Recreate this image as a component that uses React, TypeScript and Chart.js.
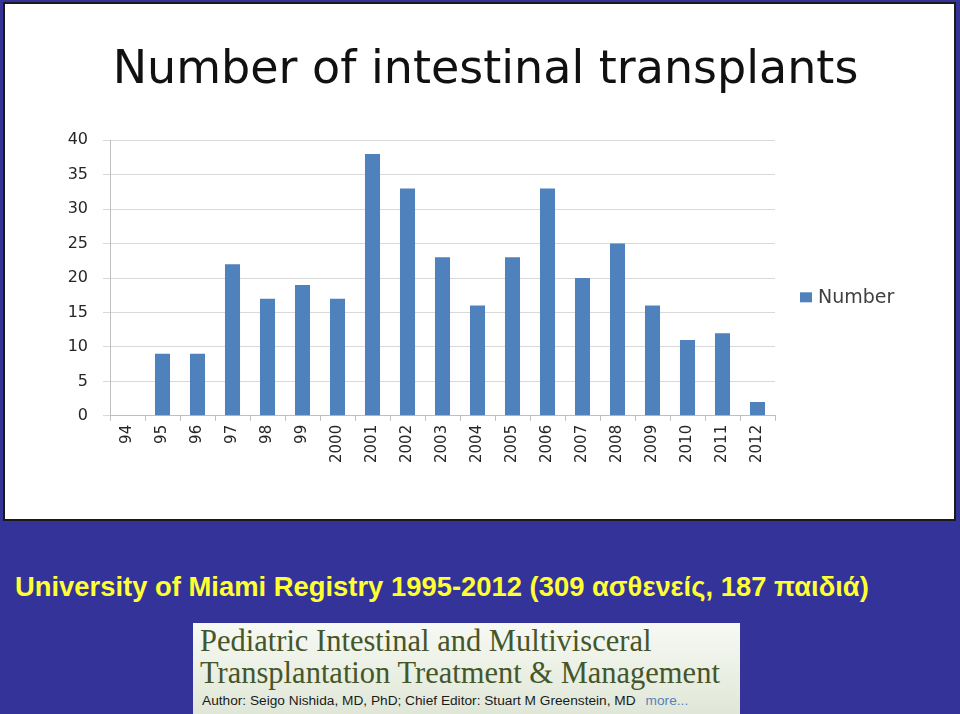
import React, { useEffect, useRef } from "react";
import { Chart, registerables } from "chart.js";

Chart.register(...registerables);

const categories = ["94", "95", "96", "97", "98", "99", "2000", "2001", "2002", "2003", "2004", "2005", "2006", "2007", "2008", "2009", "2010", "2011", "2012"];
const numberValues = [0, 9, 9, 22, 17, 19, 17, 38, 33, 23, 16, 23, 33, 20, 25, 16, 11, 12, 2];
const seriesName = "Number";
const chartTitle = "Number of intestinal transplants";
const yTickStep = 5;
const yMax = 40;

const BAR_COLOR = "#4f81bd";

const legendPlugin = {
  id: "sideLegend",
  afterDraw(chart: any) {
    const { ctx, chartArea } = chart;
    const x = chartArea.right + 25;
    const y = chartArea.top + (chartArea.bottom - chartArea.top) * 0.57;
    ctx.save();
    ctx.fillStyle = BAR_COLOR;
    ctx.fillRect(x, y - 5, 12, 10);
    ctx.fillStyle = "#404040";
    ctx.font = "19px 'DejaVu Sans'";
    ctx.textBaseline = "middle";
    ctx.textAlign = "left";
    ctx.fillText(seriesName, x + 18, y + 1);
    ctx.restore();
  },
};

function ChartPanel() {
  const ref = useRef<HTMLCanvasElement | null>(null);
  useEffect(() => {
    if (!ref.current) return;
    const chart = new Chart(ref.current, {
      type: "bar",
      data: {
        labels: categories,
        datasets: [
          {
            label: seriesName,
            data: numberValues,
            backgroundColor: BAR_COLOR,
            borderWidth: 0,
            categoryPercentage: 1,
            barPercentage: 0.43,
            yAxisID: "y",
          },
        ],
      },
      options: {
        animation: false,
        responsive: true,
        maintainAspectRatio: false,
        layout: { padding: { left: 12, right: 0, top: 0, bottom: 52 } },
        plugins: {
          legend: { display: false },
          tooltip: { enabled: false },
          title: {
            display: true,
            text: chartTitle,
            color: "#111111",
            font: { family: "'DejaVu Sans'", size: 46, weight: "normal" },
            padding: { top: 39, bottom: 42 },
          },
        },
        scales: {
          x: {
            grid: {
              display: true,
              drawOnChartArea: false,
              drawTicks: true,
              tickLength: 5,
              color: "#bfbfbf",
            },
            border: { display: true, color: "#bfbfbf" },
            ticks: {
              color: "#262626",
              font: { family: "'DejaVu Sans'", size: 15 },
              minRotation: 90,
              maxRotation: 90,
              padding: 4,
              autoSkip: false,
            },
          },
          y: {
            min: 0,
            max: yMax,
            position: "left",
            grid: { color: "#d9d9d9", tickLength: 7, drawTicks: true },
            border: { display: true, color: "#bfbfbf" },
            ticks: {
              stepSize: yTickStep,
              color: "#262626",
              font: { family: "'DejaVu Sans'", size: 16 },
              padding: 15,
            },
            afterFit(scale: any) {
              scale.width = 93;
            },
          },
          legendSpace: {
            type: "linear",
            position: "right",
            display: true,
            grid: { display: false },
            border: { display: false },
            ticks: { display: false },
            afterFit(scale: any) {
              scale.width = 179;
            },
          },
        },
      },
      plugins: [legendPlugin],
    });
    return () => chart.destroy();
  }, []);
  return <canvas ref={ref} />;
}

export default function App() {
  return (
    <div
      style={{
        position: "fixed",
        left: 0,
        top: 0,
        width: 960,
        height: 714,
        overflow: "hidden",
        background: "#333399",
      }}
    >
      <div
        style={{
          position: "absolute",
          left: 3,
          top: 2,
          width: 949,
          height: 515,
          border: "2px solid #1a1a1a",
          background: "#ffffff",
        }}
      >
        <div style={{ position: "absolute", left: 0, top: 0, width: 949, height: 515 }}>
          <ChartPanel />
        </div>
      </div>
      <div
        style={{
          position: "absolute",
          left: 15,
          top: 571,
          fontFamily: "'Liberation Sans', Arial, sans-serif",
          fontWeight: "bold",
          fontSize: 27.4,
          color: "#ffff33",
          whiteSpace: "nowrap",
          lineHeight: "31px",
        }}
      >
        University of Miami Registry 1995-2012 (309 ασθενείς, 187 παιδιά)
      </div>
      <div
        style={{
          position: "absolute",
          left: 193,
          top: 623,
          width: 547,
          height: 95,
          background: "linear-gradient(to bottom, #f7f9f4 0%, #eaefe3 55%, #dfe6d6 100%)",
        }}
      >
        <div
          style={{
            position: "absolute",
            left: 7,
            top: 2,
            fontFamily: "'Liberation Serif', 'DejaVu Serif', serif",
            fontSize: 30.5,
            lineHeight: "32px",
            color: "#45562a",
            whiteSpace: "nowrap",
          }}
        >
          Pediatric Intestinal and Multivisceral
          <br />
          Transplantation Treatment &amp; Management
        </div>
        <div
          style={{
            position: "absolute",
            left: 9,
            top: 70,
            fontFamily: "'Liberation Sans', Arial, sans-serif",
            fontSize: 13.7,
            lineHeight: "16px",
            color: "#1a1a1a",
            whiteSpace: "nowrap",
          }}
        >
          Author: Seigo Nishida, MD, PhD; Chief Editor: Stuart M Greenstein, MD
          <span style={{ color: "#5a7fb8", marginLeft: 10 }}>more...</span>
        </div>
      </div>
    </div>
  );
}
